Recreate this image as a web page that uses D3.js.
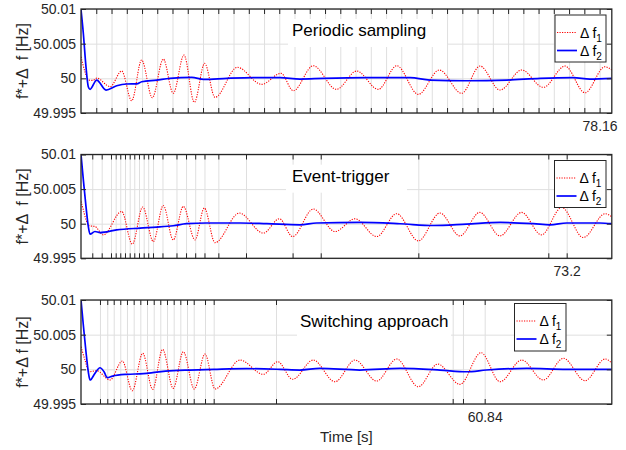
<!DOCTYPE html>
<html><head><meta charset="utf-8">
<script src="https://cdn.jsdelivr.net/npm/d3@7"></script>
<style>
body{margin:0;background:#fff}
text{font-family:"Liberation Sans",Arial,Helvetica,sans-serif;fill:#262626}
</style>
</head><body><svg id="c" width="626" height="450"></svg>
<script>
// ---------- data ----------
const yTicks = [49.995, 50, 50.005, 50.01];
const yTickLabels = ["49.995", "50", "50.005", "50.01"];
const titles = ["Periodic sampling", "Event-trigger", "Switching approach"];
const yLabels = ["f*+\u0394  f [Hz]", "f*+\u0394  f [Hz]", "f*+\u0394 f [Hz]"];
const xLabel = "Time [s]";
const seriesNames = ["\u0394 f", "\u0394 f"];
const seriesSubs = ["1", "2"];

const periodicTicks = [2.30, 4.60, 6.90, 9.20, 11.49, 13.79, 16.09, 18.39, 20.69, 22.99, 25.29, 27.59,
  29.88, 32.18, 34.48, 36.78, 39.08, 41.38, 43.68, 45.98, 48.27, 50.57, 52.87, 55.17, 57.47, 59.77,
  62.07, 64.37, 66.67, 68.96, 71.26, 73.56, 75.86, 78.16];
const eventTicks = [1.70, 3.12, 4.52, 5.23, 5.92, 6.63, 7.34, 8.03, 8.74, 9.45, 10.13, 10.85, 12.28,
  14.39, 15.83, 17.21, 18.61, 20.70, 24.87, 31.89, 36.13, 50.84, 70.43, 73.20];
const switchTicks = [2.86, 3.96, 4.93, 5.92, 6.93, 7.94, 8.94, 9.95, 10.96, 11.95, 12.96, 13.97, 14.97,
  15.98, 16.99, 18.69, 20.0, 29.39, 56.02, 57.57, 60.84];
const shownTickLabels = ["78.16", "73.2", "60.84"];
const shownTickValues = [78.16, 73.2, 60.84];

// Periodic sampling
const perRedT = [0, 0.6, 1.1, 1.8, 2.36, 4.4, 6.13, 7.64, 9.14, 10.75, 12.4, 13.9, 15.52, 17.08, 18.64, 20.2,
  23.56, 27.23, 30.14, 32.0, 35.0, 38.5, 41.55, 44.8, 47.6, 50.84, 54.0, 57.37, 60.14, 63.15, 66.42, 69.68,
  72.95, 75.96, 78.97, 80];
const perRedF = [50.0031, 50.00095, 49.99975, 49.9997, 50.00003, 49.9988, 50.00105, 49.99677, 50.00264, 49.9972,
  50.00278, 49.99784, 50.00336, 49.99654, 50.00216, 49.99726, 50.00159, 49.99913, 50.00072, 49.99821, 50.00182,
  49.99841, 50.00105, 49.99841, 50.00182, 49.99769, 50.0012, 49.99784, 50.00177, 49.99831, 50.0012, 49.9987,
  50.00177, 49.99792, 50.00167, 50.0012];
const perBlueT = [0, 0.35, 0.75, 1.1, 1.36, 2.36, 3.77, 5.38, 6.88, 8.4, 9.15, 11.4, 13.4, 16.7, 18.5, 22, 26,
  30, 33, 36.5, 43, 49.6, 52.6, 58.1, 64.2, 69.2, 74.2, 76.7, 80];
const perBlueF = [50.0099, 50.0065, 50.00167, 49.99879, 49.99841, 49.99975, 49.99831, 49.99893, 49.99918, 49.9992,
  49.99951, 49.99975, 50.0, 50.00014, 49.99985, 50.0, 50.0001, 50.0001, 49.9999, 50.0, 50.0001, 50.0001, 49.99975,
  49.99965, 49.99975, 50.0, 50.0001, 49.9999, 50.0];

// Event-trigger
const evRedT = [0, 0.35, 0.75, 1.25, 2.1, 3.36, 6.13, 7.73, 9.3, 10.9, 12.4, 13.9, 15.42, 17.18, 18.58, 20.2,
  23.86, 27.48, 29.9, 31.9, 35.0, 38.28, 41.3, 44.56, 47.58, 50.84, 54.1, 57.1, 60.1, 63.15, 66.4, 69.4, 72.45,
  75.7, 79.0, 80];
const evRedF = [50.00322, 50.002, 50.00057, 49.9997, 49.9996, 49.99839, 50.00177, 49.99704, 50.00241, 49.99742,
  50.00264, 49.99766, 50.0025, 49.99766, 50.00226, 49.99727, 50.00154, 49.99864, 50.00071, 49.99814, 50.00212,
  49.99887, 50.00071, 49.99814, 50.00144, 49.99752, 50.00154, 49.99824, 50.00163, 49.99824, 50.00163, 49.99839,
  50.00235, 49.998, 50.00144, 50.001];
const evBlueT = [0, 0.35, 0.75, 1.1, 1.36, 2.1, 2.86, 5.38, 8.9, 11.4, 13.9, 15.9, 18.9, 24, 28, 33, 35.5, 42,
  48.1, 53.1, 58.1, 63.2, 68.2, 70.7, 73.2, 78.2, 80];
const evBlueF = [50.01, 50.00637, 50.0025, 49.9996, 49.99849, 49.99887, 49.99872, 49.99911, 49.99936, 49.9995,
  49.9997, 50.0, 50.0001, 50.0001, 50.0, 49.99984, 50.0001, 50.00018, 49.99999, 49.99974, 49.99994, 50.00018,
  50.0, 49.99984, 50.0001, 50.0001, 50.0];

// Switching approach
const swRedT = [0, 0.6, 1.25, 2.36, 4.37, 6.23, 7.73, 9.3, 10.8, 12.3, 13.9, 15.42, 17.08, 18.69, 20.2, 23.96,
  27.48, 29.64, 31.9, 35.0, 38.28, 41.3, 44.56, 47.58, 50.84, 53.76, 57.12, 60.3, 63.15, 66.42, 69.68, 72.7,
  75.96, 79.0, 80];
const swRedF = [50.00326, 50.00134, 49.99965, 49.9998, 49.99846, 50.0012, 49.99691, 50.00231, 49.99711, 50.00288,
  49.99726, 50.00254, 49.99716, 50.00221, 49.99716, 50.00134, 49.99928, 50.0011, 49.99856, 50.00134, 49.99821,
  50.00134, 49.99831, 50.00149, 49.99749, 50.00076, 49.99783, 50.0024, 49.99821, 50.00134, 49.99846, 50.00159,
  49.99836, 50.00149, 50.0009];
const swBlueT = [0, 0.35, 0.75, 1.1, 1.36, 2.1, 2.86, 3.47, 3.97, 4.76, 6.9, 9.4, 11.4, 13.9, 16.4, 20, 25, 30,
  33, 36, 42, 48.1, 54.1, 58.1, 61.1, 67.2, 73.2, 80];
const swBlueF = [50.01, 50.0064, 50.00254, 49.99965, 49.99846, 49.99942, 50.00023, 49.99965, 49.99879, 49.99903,
  49.99928, 49.99937, 49.9996, 49.99981, 49.9999, 50.0, 50.0001, 50.0, 49.9999, 50.00014, 49.9999, 50.00014,
  49.9999, 49.99965, 49.9999, 50.00014, 50.0, 50.0];

// ---------- layout ----------
const svg = d3.select("#c");
const L = 81, R = 611.8;
const x = d3.scaleLinear().domain([0, 80]).range([L, R]);
const panels = [
  {top: 9, bottom: 113, ticks: periodicTicks, red: [perRedT, perRedF], blue: [perBlueT, perBlueF],
   tx: 292, ty: 36, box: [288, 447], lg: {x: 555, y: 15, w: 51, h: 47}},
  {top: 154.5, bottom: 258.3, ticks: eventTicks, red: [evRedT, evRedF], blue: [evBlueT, evBlueF],
   tx: 292, ty: 181.7, box: [286, 407], lg: {x: 554.5, y: 160.5, w: 51.5, h: 47}},
  {top: 300, bottom: 404, ticks: switchTicks, red: [swRedT, swRedF], blue: [swBlueT, swBlueF],
   tx: 300, ty: 326.7, box: [297, 451], lg: {x: 514.5, y: 303.5, w: 51.5, h: 47.5}}
];
const axisColor = "#262626", gridColor = "#dfdfdf";

panels.forEach((p, i) => {
  const y = d3.scaleLinear().domain([49.995, 50.01]).range([p.bottom, p.top]);
  const g = svg.append("g");
  const h = p.bottom - p.top, w = R - L;

  // grid
  g.append("g").attr("transform", `translate(0,${p.bottom})`)
    .call(d3.axisBottom(x).tickValues(p.ticks).tickSize(-h).tickFormat(""))
    .call(s => { s.select(".domain").remove(); s.selectAll("line").attr("stroke", gridColor); });
  g.append("g").attr("transform", `translate(${L},0)`)
    .call(d3.axisLeft(y).tickValues(yTicks).tickSize(-w).tickFormat(""))
    .call(s => { s.select(".domain").remove(); s.selectAll("line").attr("stroke", gridColor); });

  // title background
  g.append("rect").attr("x", p.box[0]).attr("y", p.ty - 17).attr("width", p.box[1] - p.box[0])
    .attr("height", 28).attr("fill", "#fff");

  // clip
  const cid = "clip" + i;
  svg.append("clipPath").attr("id", cid).append("rect")
    .attr("x", L).attr("y", p.top).attr("width", w).attr("height", h);

  const line = d3.line().x(d => x(d[0])).y(d => y(d[1])).curve(d3.curveMonotoneX);
  const redData = p.red[0].map((t, k) => [t, p.red[1][k]]);
  const blueData = p.blue[0].map((t, k) => [t, p.blue[1][k]]);
  g.append("path").attr("d", line(redData)).attr("clip-path", `url(#${cid})`)
    .attr("fill", "none").attr("stroke", "#ff0000").attr("stroke-width", 1.1)
    .attr("stroke-dasharray", "1.2,1.3");
  g.append("path").attr("d", line(blueData)).attr("clip-path", `url(#${cid})`)
    .attr("fill", "none").attr("stroke", "#0000ff").attr("stroke-width", 1.7);

  // axes
  const fmt = d => (Math.abs(d - shownTickValues[i]) < 1e-6 ? shownTickLabels[i] : "");
  const styleAx = s => {
    s.select(".domain").remove();
    s.selectAll("line").attr("stroke", axisColor);
    s.selectAll("text").attr("fill", axisColor).style("font-size", "14px");
  };
  g.append("g").attr("transform", `translate(0,${p.bottom})`)
    .call(d3.axisBottom(x).tickValues(p.ticks).tickSize(-5).tickPadding(8).tickFormat(fmt)).call(styleAx);
  g.append("g").attr("transform", `translate(0,${p.top})`)
    .call(d3.axisTop(x).tickValues(p.ticks).tickSize(-5).tickFormat("")).call(styleAx);
  g.append("g").attr("transform", `translate(${L},0)`)
    .call(d3.axisLeft(y).tickValues(yTicks).tickSize(-5).tickPadding(5)
      .tickFormat((d, k) => yTickLabels[k])).call(styleAx);
  g.append("g").attr("transform", `translate(${R},0)`)
    .call(d3.axisRight(y).tickValues(yTicks).tickSize(-5).tickFormat("")).call(styleAx);
  g.append("rect").attr("x", L).attr("y", p.top).attr("width", w).attr("height", h)
    .attr("fill", "none").attr("stroke", axisColor).attr("stroke-width", 1.3);

  // y label
  g.append("text").attr("transform", `translate(28,${(p.top + p.bottom) / 2}) rotate(-90)`)
    .attr("text-anchor", "middle").style("font-size", "16px").style("white-space", "pre")
    .text(yLabels[i]);

  // title
  g.append("text").attr("x", p.tx).attr("y", p.ty).style("font-size", "17px").style("fill", "#000")
    .text(titles[i]);

  // legend
  const lg = p.lg;
  g.append("rect").attr("x", lg.x).attr("y", lg.y).attr("width", lg.w).attr("height", lg.h)
    .attr("fill", "#fff").attr("stroke", axisColor).attr("stroke-width", 1);
  const rows = [lg.y + 17.5, lg.y + 35.5];
  const colors = ["#ff0000", "#0000ff"];
  rows.forEach((ry, k) => {
    g.append("line").attr("x1", lg.x + 2).attr("x2", lg.x + 22).attr("y1", ry).attr("y2", ry)
      .attr("stroke", colors[k]).attr("stroke-width", k ? 1.7 : 1.1)
      .attr("stroke-dasharray", k ? null : "1.2,1.3");
    const t = g.append("text").attr("x", lg.x + 25).attr("y", ry + 5).style("font-size", "14px")
      .style("fill", "#000").style("white-space", "pre");
    t.append("tspan").text(seriesNames[k]);
    t.append("tspan").attr("dy", 4).style("font-size", "10px").text(seriesSubs[k]);
  });
});

svg.append("text").attr("x", (L + R) / 2).attr("y", 441.5).attr("text-anchor", "middle")
  .style("font-size", "15px").text(xLabel);
</script>
</body></html>
